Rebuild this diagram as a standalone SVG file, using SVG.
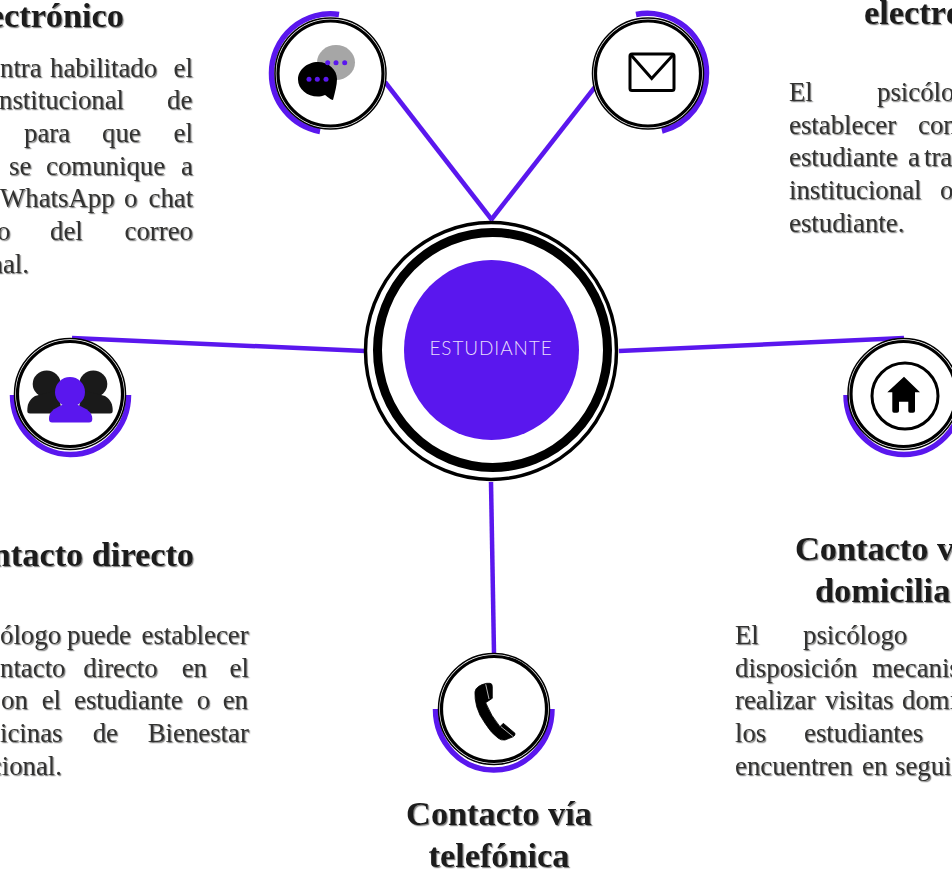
<svg xmlns="http://www.w3.org/2000/svg" width="952" height="871" viewBox="0 0 952 871">
<defs>
<filter id="sh" x="-5%" y="-20%" width="110%" height="150%"><feDropShadow dx="1.2" dy="1.2" stdDeviation="0.6" flood-color="#666" flood-opacity="0.8"/></filter>
<style>
text{font-family:"Liberation Serif","Times New Roman",serif}
.h{font-size:34.3px;font-weight:700;fill:#1a1a1a;filter:url(#sh)}
.b{font-size:26.8px;fill:#333330;filter:url(#sh)}
.m{text-anchor:middle}
.e{text-anchor:end}
.c{stroke:#5a17ee;stroke-width:4.5;fill:none}
.a{stroke:#5a17ee;stroke-width:5.5;fill:none}
.o{fill:#fff;stroke:#000;stroke-width:1.5}
.i{fill:#fff;stroke:#000;stroke-width:3.2}
.p{fill:#5a17ee}
.k{fill:#000}
.g{fill:#1a1a1a}
</style>
</defs>
<rect width="952" height="871" fill="#fff"/>
<g id="connectors">
<line class="c" x1="385" y1="82" x2="492" y2="220"/>
<line class="c" x1="595" y1="87" x2="491" y2="220"/>
<line class="c" x1="72" y1="338" x2="365" y2="351"/>
<line class="c" x1="619" y1="351" x2="904" y2="338"/>
<line class="c" x1="491" y1="482" x2="494" y2="653"/>
</g>
<g id="node-estudiante">
<ellipse cx="491" cy="351" rx="125.500" ry="128.500" fill="#fff" stroke="#000" stroke-width="3.500"/>
<ellipse cx="492.500" cy="350" rx="115" ry="117.500" fill="#fff" stroke="#000" stroke-width="9"/>
<ellipse class="p" cx="491.500" cy="350" rx="87.500" ry="90"/>
<text x="491" y="355" text-anchor="middle" style="font-family:Lato,'Liberation Sans',sans-serif;font-size:19px;font-weight:300;letter-spacing:.9px;fill:#e8defc">ESTUDIANTE</text>
</g>
<g id="node-chat">
<path class="a" d="M339 14.500A59 59 0 0 0 271.500 73A59 59 0 0 0 320 131.500"/>
<circle class="o" cx="330.500" cy="73.500" r="55.500"/>
<circle class="i" cx="330.500" cy="73.500" r="52.500"/>
<ellipse cx="336" cy="62.500" rx="19" ry="17.500" fill="#a6a6a6"/>
<path class="k" d="M318 62C329 62 337 70 337 79C337 85 335 92 333 100C331 100 328 97 325 95C322 96 320 96.500 318 96.500C307 96.500 298 89 298 79.500C298 70 307 62 318 62Z"/>
<circle class="p" cx="327.700" cy="62.700" r="2.500"/><circle class="p" cx="336" cy="62.700" r="2.500"/><circle class="p" cx="344.700" cy="62.700" r="2.500"/>
<circle class="p" cx="309" cy="79.300" r="2.500"/><circle class="p" cx="317.300" cy="79.300" r="2.500"/><circle class="p" cx="326" cy="79.300" r="2.500"/>
</g>
<g id="node-correo">
<path class="a" d="M636 14.500A59 59 0 0 1 706.500 73A59 59 0 0 1 662 131"/>
<circle class="o" cx="648" cy="73.500" r="55.500"/>
<circle class="i" cx="648" cy="73.500" r="52.500"/>
<rect x="630" y="54" width="44" height="36.500" rx="2" fill="#fff" stroke="#000" stroke-width="3"/>
<path d="M631 55L651.700 78.500L673 55" fill="none" stroke="#000" stroke-width="3"/>
</g>
<g id="node-directo">
<path class="a" d="M12.500 395A58 59.500 0 0 0 70 454.500A58 59.500 0 0 0 128.500 395"/>
<circle class="o" cx="70" cy="394" r="55.500"/>
<circle class="i" cx="70" cy="394" r="52.500"/>
<ellipse class="g" cx="46.700" cy="384" rx="14" ry="13.500"/><ellipse class="g" cx="93.300" cy="384" rx="14" ry="13.500"/>
<path class="g" d="M27.300 411C27.300 404 29 400 35 396L58 390L62 413.500L30 413.500Q27.300 413.500 27.300 411Z"/>
<path class="g" d="M112.700 411C112.700 404 111 400 105 396L82 390L78 413.500L110 413.500Q112.700 413.500 112.700 411Z"/>
<circle class="p" cx="70" cy="392" r="15"/>
<path class="p" d="M49 419C49 412 53 409 62 405L78 405C87 409 92.300 412 92.300 419Q92.300 422.500 89 422.500L52 422.500Q49 422.500 49 419Z"/>
</g>
<g id="node-domicilio">
<path class="a" d="M846 395A58 59.500 0 0 0 904 454.500A58 59.500 0 0 0 962 395"/>
<circle class="o" cx="903.500" cy="394" r="55.500"/>
<circle class="i" cx="903.500" cy="394" r="52.500"/>
<circle cx="905" cy="396" r="33" fill="#fff" stroke="#000" stroke-width="3"/>
<path class="k" d="M904 376.700L920 392.300L915 392.300L915 411Q915 412.700 913 412.700L910 412.700Q908.300 412.700 908.300 411L908.300 401.700L899 401.700L899 411Q899 412.700 897 412.700L894 412.700Q892.300 412.700 892.300 411L892.300 392.300L887.300 392.300Z"/>
</g>
<g id="node-telefono">
<path class="a" d="M435.500 709A58 61 0 0 0 494 770A58 61 0 0 0 552 709"/>
<circle class="o" cx="494" cy="709" r="55.500"/>
<circle class="i" cx="494" cy="709" r="52.500"/>
<path class="k" stroke="#000" stroke-width=".8" stroke-linejoin="round" d="M486.700 683.300L490 683.300Q492.300 683.500 492.300 686.700L492.300 698.300L485.700 702.700Q491 716 500 726.700L503.300 723.300L515 733.300Q515.500 735 513.300 736.700L505 740Q501 740.500 498.300 738.300Q491 733 485 723.300Q479 715 476.700 706.700Q474.500 698 475 691.700Q476 685.500 486.700 683.300Z"/>
<path d="M485.700 684.300L489 699M501 726.700L513.300 736.700" stroke="#fff" stroke-width=".7" fill="none"/>
</g>
<g id="text-chat">
<text class="h e" x="124" y="27">ectrónico</text>
<text class="b" y="76.700"><tspan x="0">ntra</tspan> <tspan x="50">habilitado</tspan> <tspan x="173.500">el</tspan></text>
<text class="b" y="109"><tspan x="-1">nstitucional</tspan> <tspan x="167">de</tspan></text>
<text class="b" y="142"><tspan x="24">para</tspan> <tspan x="102">que</tspan> <tspan x="173.500">el</tspan></text>
<text class="b" y="174.500"><tspan x="9">se</tspan> <tspan x="46">comunique</tspan> <tspan x="181">a</tspan></text>
<text class="b" y="207"><tspan x="0">WhatsApp</tspan> <tspan x="124">o</tspan> <tspan x="148.500">chat</tspan></text>
<text class="b" y="240"><tspan x="-3">o</tspan> <tspan x="50">del</tspan> <tspan x="124.500">correo</tspan></text>
<text class="b e" x="29" y="272.700">nal.</text>
</g>
<g id="text-correo">
<text class="h" x="864" y="24">electró</text>
<text class="b" y="101"><tspan x="789">El</tspan> <tspan x="877">psicólo</tspan></text>
<text class="b" y="133.500"><tspan x="789">establecer</tspan> <tspan x="918">con</tspan></text>
<text class="b" y="166"><tspan x="789">estudiante</tspan> <tspan x="908">a</tspan> <tspan x="924">tra</tspan></text>
<text class="b" y="199"><tspan x="789">institucional</tspan> <tspan x="940">o</tspan></text>
<text class="b" x="789" y="231.700">estudiante.</text>
</g>
<g id="text-directo">
<text class="h e" x="194" y="566">ntacto directo</text>
<text class="b" y="644"><tspan x="0">ólogo</tspan> <tspan x="67">puede</tspan> <tspan x="141.500">establecer</tspan></text>
<text class="b" y="676.700"><tspan x="0">ntacto</tspan> <tspan x="83.300">directo</tspan> <tspan x="181.700">en</tspan> <tspan x="229.500">el</tspan></text>
<text class="b" y="709.300"><tspan x="1">on</tspan> <tspan x="41.700">el</tspan> <tspan x="74">estudiante</tspan> <tspan x="196.700">o</tspan> <tspan x="222.700">en</tspan></text>
<text class="b" y="742.300"><tspan x="0">icinas</tspan> <tspan x="92.700">de</tspan> <tspan x="147.700">Bienestar</tspan></text>
<text class="b e" x="62" y="775">cional.</text>
</g>
<g id="text-domicilio">
<text class="h" x="795" y="560">Contacto v</text>
<text class="h" x="815" y="602">domicilia</text>
<text class="b" y="644"><tspan x="735">El</tspan> <tspan x="803">psicólogo</tspan></text>
<text class="b" y="676.700"><tspan x="735">disposición</tspan> <tspan x="872">mecanis</tspan></text>
<text class="b" y="709.300"><tspan x="735">realizar</tspan> <tspan x="825">visitas</tspan> <tspan x="902">domi</tspan></text>
<text class="b" y="742.300"><tspan x="735">los</tspan> <tspan x="804">estudiantes</tspan></text>
<text class="b" y="775"><tspan x="735">encuentren</tspan> <tspan x="862">en</tspan> <tspan x="895">segui</tspan></text>
</g>
<g id="text-telefono">
<text class="h m" x="499" y="825">Contacto vía</text>
<text class="h m" x="499" y="867">telefónica</text>
</g>
</svg>
